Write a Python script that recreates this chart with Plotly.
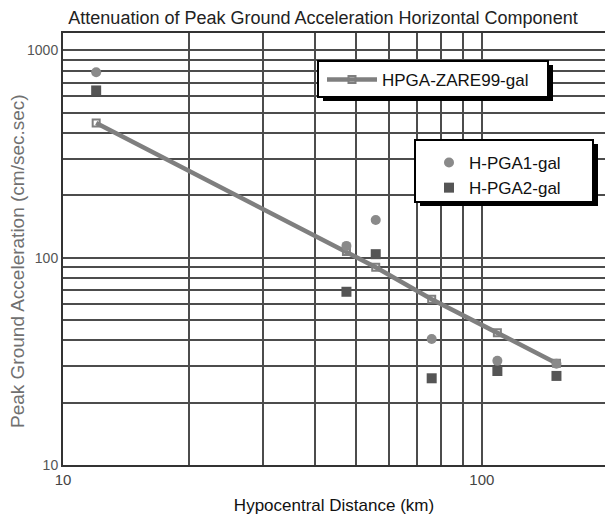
import plotly.graph_objects as go

# ---- data ----
distance_km = [12, 47.5, 55.8, 75.9, 108.9, 150.7]
hpga1_gal = [785, 114, 152, 40.5, 31.8, 30.8]
hpga2_gal = [641, 68.5, 104, 26.2, 28.4, 26.9]
zare99_gal = [446, 107, 90, 63, 43.5, 31]

title_text = "Attenuation of Peak Ground Acceleration Horizontal Component"
x_title = "Hypocentral Distance (km)"
y_title = "Peak Ground Acceleration (cm/sec.sec)"
x_tickvals = [10, 100]
y_tickvals = [10, 100, 1000]

W, H = 605, 517
L, R, T, B = 63, 0, 33, 52
PW, PH = W - L - R, H - T - B

def px(x):
    return (x - L) / PW

def py(y):
    return (H - B - y) / PH

FONT = "Liberation Sans, Arial, sans-serif"

fig = go.Figure()
fig.add_trace(go.Scatter(
    x=distance_km, y=zare99_gal, name="HPGA-ZARE99-gal", mode="lines+markers",
    line=dict(color="#7f7f7f", width=4.5),
    marker=dict(symbol="square-open", size=7, color="#7f7f7f", line=dict(width=2, color="#7f7f7f")),
    legend="legend",
))
fig.add_trace(go.Scatter(
    x=distance_km, y=hpga1_gal, name="H-PGA1-gal", mode="markers",
    marker=dict(symbol="circle", size=10, color="#8a8a8a"),
    legend="legend2",
))
fig.add_trace(go.Scatter(
    x=distance_km, y=hpga2_gal, name="H-PGA2-gal", mode="markers",
    marker=dict(symbol="square", size=10, color="#555555"),
    legend="legend2",
))

grid = "#4c4c4c"
shapes = []
for (x0, y0, x1, y1) in [(318, 61, 548, 97), (415, 140, 593, 202)]:
    shapes.append(dict(type="rect", xref="paper", yref="paper", layer="above",
                       x0=px(x0 + 5), x1=px(x1 + 5), y0=py(y1 + 4), y1=py(y0 + 4),
                       fillcolor="black", line=dict(width=0)))
    shapes.append(dict(type="rect", xref="paper", yref="paper", layer="above",
                       x0=px(x0), x1=px(x1), y0=py(y1), y1=py(y0),
                       fillcolor="white", line=dict(width=2, color="black")))

fig.update_layout(
    width=W, height=H,
    margin=dict(l=L, r=R, t=T, b=B, autoexpand=False),
    paper_bgcolor="white", plot_bgcolor="white",
    font=dict(family=FONT, color="#333", size=14),
    showlegend=True,
    title=dict(text=title_text, x=(323 - L) / PW, xref="paper", xanchor="center",
               y=1 - 18 / H, yref="container", yanchor="middle",
               font=dict(size=18, color="#222", family=FONT)),
    xaxis=dict(type="log", range=[1, 2.294], tickvals=x_tickvals,
               ticktext=[str(v) for v in x_tickvals],
               showgrid=True, gridcolor=grid, gridwidth=1.5,
               minor=dict(dtick="D1", showgrid=True, gridcolor=grid, gridwidth=1.5, ticks=""),
               showline=True, linecolor="#333", linewidth=2, mirror=True,
               ticks="", zeroline=False,
               tickfont=dict(size=15, color="#444"),
               title=dict(text=x_title, standoff=12, font=dict(size=17, color="#111"))),
    yaxis=dict(type="log", range=[1, 3.084], tickvals=y_tickvals,
               ticktext=[str(v) for v in y_tickvals],
               showgrid=True, gridcolor=grid, gridwidth=2,
               minor=dict(dtick="D1", showgrid=True, gridcolor=grid, gridwidth=2, ticks=""),
               showline=True, linecolor="#333", linewidth=2, mirror=True,
               ticks="", zeroline=False,
               tickfont=dict(size=14, color="#555")),
    annotations=[dict(text=y_title, textangle=-90, showarrow=False,
                      xref="paper", yref="paper", x=px(17), y=py(261),
                      xanchor="center", yanchor="middle",
                      font=dict(size=19, color="#707070", family=FONT))],
    legend=dict(x=px(322), y=py(62), xanchor="left", yanchor="top",
                bgcolor="rgba(0,0,0,0)", borderwidth=0, itemwidth=50,
                font=dict(size=17, color="#111", family=FONT)),
    legend2=dict(x=px(429), y=py(145), xanchor="left", yanchor="top",
                 bgcolor="rgba(0,0,0,0)", borderwidth=0,
                 font=dict(size=17, color="#111", family=FONT)),
    shapes=shapes,
)

fig.write_html("out.html", config={"displayModeBar": False},
               post_script="document.body.style.margin='0';")
